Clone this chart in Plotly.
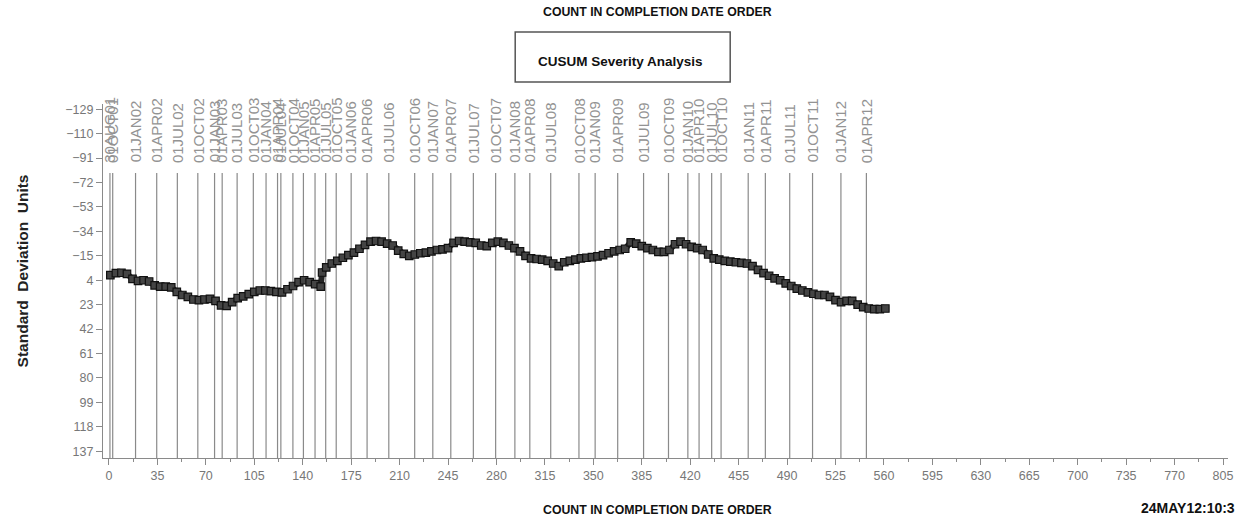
import plotly.graph_objects as go

# CUSUM series: completion-order count and cumulative value (std-dev units)
counts = [1, 5, 9, 13, 17, 21, 25, 29, 33, 37, 41, 45, 49, 53, 57, 61, 65, 69, 73, 77,
          81, 85, 89, 93, 97, 101, 105, 109, 113, 117, 121, 125, 129, 133, 137, 141, 145,
          149, 153, 154, 157, 161, 165, 169, 173, 177, 181, 185, 189, 193, 197, 201, 205,
          209, 213, 217, 221, 225, 229, 233, 237, 241, 245, 249, 253, 257, 261, 265, 269,
          273, 277, 281, 285, 289, 293, 297, 301, 305, 309, 313, 317, 321, 325, 329, 333,
          337, 341, 345, 349, 353, 357, 361, 365, 369, 373, 377, 381, 385, 389, 393, 397,
          401, 405, 409, 413, 417, 421, 425, 429, 433, 437, 441, 445, 449, 453, 457, 461,
          465, 469, 473, 477, 481, 485, 489, 493, 497, 501, 505, 509, 513, 517, 521, 525,
          529, 533, 537, 541, 545, 549, 553, 557, 561]
cusum = [0, -1.5, -1.8, -1, 3, 4.5, 4, 5, 8, 9, 9, 9.5, 13, 15.5, 17, 19, 19.5, 19, 18.5, 20,
         23.5, 24, 21, 18, 16.5, 14.8, 13, 12, 12, 12.5, 13, 13.5, 11, 8.5, 5.5, 4, 5.5,
         7, 9, -2, -6, -9, -11, -13.5, -15.5, -17.5, -20.5, -23.5, -26, -26.5, -26, -24.5, -23,
         -19, -16.5, -15, -16, -17, -17.5, -18.5, -19.5, -20, -21, -25, -26.5, -26, -25.5, -25, -23,
         -22.5, -25, -26, -25, -23, -21, -18.5, -15, -13, -12.5, -12, -11, -9, -7, -10, -11,
         -12, -13, -13.5, -14, -14.5, -15.5, -17, -18.5, -19.5, -20.5, -25.5, -24.5, -22.5, -21, -19.5, -18,
         -18, -19.5, -24, -26, -24, -22, -21, -19.5, -16, -13, -12, -11, -10.5, -10, -9.5, -9,
         -7, -4, -1.5, 0.5, 2.5, 4, 6.5, 8.5, 10.5, 12, 13.5, 14.5, 15.5, 15.5, 17, 19.5,
         21, 20, 20, 23, 25, 26, 26.5, 26.5, 26]

# Reference dates marked along the count axis
date_counts = [0.7, 2.7, 19.2, 34.5, 49.4, 64.2, 76.3, 81.8, 92.6, 104.3, 113.5, 121.8,
               124.2, 132.9, 140.5, 148.9, 156.6, 164.2, 175.0, 186.5, 202.2, 220.9, 234.0,
               247.0, 263.3, 279.4, 293.3, 304.1, 319.2, 339.6, 351.3, 367.6, 386.3, 404.3,
               418.3, 426.4, 435.5, 442.3, 461.9, 474.3, 491.9, 508.4, 528.9, 547.3]
date_labels = ["30AUG01", "01OCT01", "01JAN02", "01APR02", "01JUL02", "01OCT02", "01JAN03",
               "01APR03", "01JUL03", "01OCT03", "01JAN04", "01APR04", "01JUL04", "01OCT04",
               "01JAN05", "01APR05", "01JUL05", "01OCT05", "01JAN06", "01APR06", "01JUL06",
               "01OCT06", "01JAN07", "01APR07", "01JUL07", "01OCT07", "01JAN08", "01APR08",
               "01JUL08", "01OCT08", "01JAN09", "01APR09", "01JUL09", "01OCT09", "01JAN10",
               "01APR10", "01JUL10", "01OCT10", "01JAN11", "01APR11", "01JUL11", "01OCT11",
               "01JAN12", "01APR12"]

y_ticks = [-129, -110, -91, -72, -53, -34, -15, 4, 23, 42, 61, 80, 99, 118, 137]
x_ticks = list(range(0, 806, 35))

X_RANGE = [-4.32, 808.6]
Y_RANGE = [142.3, -133.1]   # reversed: negative values at the top
LINE_TOP = -79.4
LABEL_BASE = -86.6

GRAY = "#8a8a8a"
THIN = "Liberation Sans, Arial, sans-serif"
TICK_FONT = dict(family=THIN, size=12.5, color="#777777")
BOLD = "Liberation Sans Narrow, Arial Narrow, Liberation Sans, sans-serif"

fig = go.Figure()

fig.add_trace(go.Scatter(
    x=counts, y=cusum, mode="lines+markers",
    line=dict(color="#262626", width=6),
    marker=dict(symbol="square", size=7.5, color="#444444",
                line=dict(color="#111111", width=1.2)),
    showlegend=False, hoverinfo="x+y",
))

shapes = []
annotations = []
for dc, lab in zip(date_counts, date_labels):
    shapes.append(dict(type="line", xref="x", yref="y", x0=dc, x1=dc,
                       y0=LINE_TOP, y1=Y_RANGE[0], line=dict(color=GRAY, width=1.2),
                       layer="below"))
    annotations.append(dict(x=dc, y=LABEL_BASE, xref="x", yref="y", text=lab,
                            textangle=-90, showarrow=False, xanchor="center",
                            yanchor="bottom", borderpad=0,
                            font=dict(family=THIN, size=15, color="#939393")))

# title box
shapes.append(dict(type="rect", xref="paper", yref="paper", x0=0.3664, x1=0.5575,
                   y0=1.0622, y1=1.2036, line=dict(color="#555555", width=1.5)))

annotations += [
    dict(xref="paper", yref="paper", x=0.4929, y=1.2601, xanchor="center", yanchor="middle",
         text="<b>COUNT IN COMPLETION DATE ORDER</b>", showarrow=False,
         font=dict(family=BOLD, size=12.3, color="#111111")),
    dict(xref="paper", yref="paper", x=0.4599, y=1.119, xanchor="center", yanchor="middle",
         text="<b>CUSUM Severity Analysis</b>", showarrow=False,
         font=dict(family=BOLD, size=13.5, color="#111111")),
    dict(xref="paper", yref="paper", x=0.4929, y=-0.1479, xanchor="center", yanchor="middle",
         text="<b>COUNT IN COMPLETION DATE ORDER</b>", showarrow=False,
         font=dict(family=BOLD, size=12.3, color="#111111")),
    dict(xref="paper", yref="paper", x=0.9213, y=-0.1422, xanchor="left", yanchor="middle",
         text="<b>24MAY12:10:3</b>", showarrow=False,
         font=dict(family=BOLD, size=14, color="#111111")),
    dict(xref="paper", yref="paper", x=-0.0717, y=0.528, xanchor="center", yanchor="middle",
         textangle=-90, text="<b>Standard  Deviation  Units</b>", showarrow=False,
         font=dict(family="Liberation Sans, Arial, sans-serif", size=15.5, color="#222222")),
]

fig.update_layout(
    width=1238, height=518,
    margin=dict(l=103, r=5, t=104, b=60.3, pad=0),
    paper_bgcolor="white", plot_bgcolor="white",
    shapes=shapes, annotations=annotations,
    xaxis=dict(range=X_RANGE, tickvals=x_ticks, ticks="outside", ticklen=6,
               tickcolor=GRAY, showline=True, linecolor=GRAY, linewidth=1.2,
               showgrid=False, zeroline=False, tickfont=TICK_FONT,
               ticklabeloverflow="allow",
               minor=dict(tickvals=[t + 17.5 for t in x_ticks[:-1]], ticks="outside",
                          ticklen=3, tickcolor=GRAY, showgrid=False)),
    yaxis=dict(range=Y_RANGE, tickvals=y_ticks, ticks="outside", ticklen=6,
               tickcolor=GRAY, showline=True, linecolor=GRAY, linewidth=1.2,
               showgrid=False, zeroline=False, tickfont=TICK_FONT),
)

fig.write_html("out.html")
